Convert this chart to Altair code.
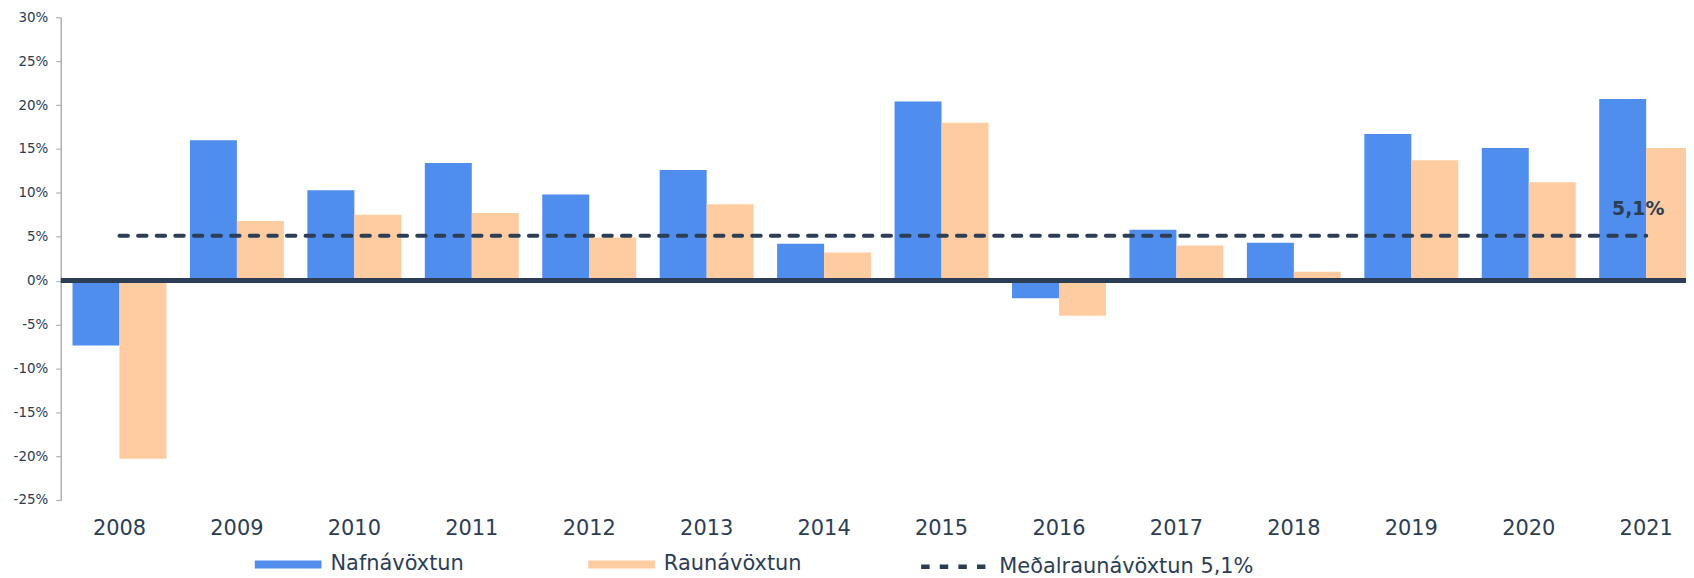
import altair as alt
import pandas as pd

years = ["2008", "2009", "2010", "2011", "2012", "2013", "2014",
         "2015", "2016", "2017", "2018", "2019", "2020", "2021"]
nafn = [-7.4, 16.0, 10.3, 13.4, 9.8, 12.6, 4.2, 20.4, -2.0, 5.8, 4.3, 16.7, 15.1, 20.7]
raun = [-20.3, 6.8, 7.5, 7.7, 4.9, 8.7, 3.2, 18.0, -4.0, 4.0, 1.0, 13.7, 11.2, 15.1]
avg_value = 5.1
avg_label = "5,1%"
series_names = ["Nafnávöxtun", "Raunávöxtun"]
avg_name = "Meðalraunávöxtun 5,1%"
y_ticks = [-25, -20, -15, -10, -5, 0, 5, 10, 15, 20, 25, 30]

BLUE = "#508EEE"
PEACH = "#FFCBA1"
NAVY = "#2C3E55"
FONT = "DejaVu Sans"

bars_df = pd.DataFrame({
    "year": years * 2,
    "series": [series_names[0]] * len(years) + [series_names[1]] * len(years),
    "value": nafn + raun,
})
avg_df = pd.DataFrame({"year": years, "value": [avg_value] * len(years),
                       "name": [avg_name] * len(years)})
lab_df = pd.DataFrame({"year": [years[-1]], "value": [avg_value], "text": [avg_label]})
zero_df = pd.DataFrame({"value": [0]})

# the reference plot runs past the right edge of the page and is cut there
x_scale = alt.Scale(domain=years, paddingInner=0.2, paddingOuter=0.1, range=[0, 1652])
y_scale = alt.Scale(domain=[-25, 30], nice=False, zero=False)

rect_path = "M-1,-0.12L1,-0.12L1,0.12L-1,0.12Z"

bars = alt.Chart(bars_df).mark_bar(opacity=1).encode(
    x=alt.X("year:N", scale=x_scale, sort=years,
            axis=alt.Axis(title=None, labelAngle=0, ticks=False, domain=False,
                          labelFontSize=21, labelFont=FONT, labelColor=NAVY,
                          labelPadding=18)),
    xOffset=alt.XOffset("series:N", sort=series_names,
                        scale=alt.Scale(paddingInner=0, paddingOuter=0)),
    y=alt.Y("value:Q", scale=y_scale,
            axis=alt.Axis(title=None, values=y_ticks, grid=False,
                          labelExpr="datum.value + '%'",
                          labelFontSize=13.5, labelFont=FONT, labelColor=NAVY,
                          domainColor="#AEB2B8", domainWidth=1.5,
                          tickColor="#AEB2B8", tickSize=5, tickWidth=1.2,
                          labelPadding=8)),
    color=alt.Color("series:N",
                    scale=alt.Scale(domain=series_names, range=[BLUE, PEACH]),
                    legend=alt.Legend(
                        title=None, orient="none", direction="horizontal",
                        legendX=195, legendY=516, padding=0,
                        symbolSize=4489, symbolType=rect_path,
                        symbolStrokeWidth=0, symbolOpacity=1,
                        labelFontSize=21, labelFont=FONT, labelColor=NAVY,
                        labelOffset=9, columnPadding=124, labelLimit=400)),
)

zero = alt.Chart(zero_df).mark_rule(color=NAVY, strokeWidth=5).encode(
    y=alt.Y("value:Q", scale=y_scale)
)

avg_line = alt.Chart(avg_df).mark_line(
    color=NAVY, strokeWidth=4, strokeCap="round"
).encode(
    x=alt.X("year:N", scale=x_scale, sort=years),
    y=alt.Y("value:Q", scale=y_scale),
    strokeDash=alt.StrokeDash(
        "name:N",
        scale=alt.Scale(domain=[avg_name], range=[[8.5, 10.2]]),
        legend=alt.Legend(
            title=None, orient="none", direction="horizontal",
            legendX=862, legendY=516, padding=0,
            symbolSize=4489, symbolType="stroke",
            symbolStrokeColor=NAVY, symbolStrokeWidth=4.5,
            symbolDash=[13, 4.5],
            labelFontSize=21, labelFont=FONT, labelColor=NAVY,
            labelOffset=9, labelLimit=400)),
)

avg_text = alt.Chart(lab_df).mark_text(
    font=FONT, fontSize=19, fontWeight="bold", color=NAVY, dy=-27, dx=-8
).encode(
    x=alt.X("year:N", scale=x_scale, sort=years),
    y=alt.Y("value:Q", scale=y_scale),
    text="text:N",
)

chart = alt.layer(bars, zero, avg_line, avg_text).properties(
    width=1633,
    height=485,
    padding={"left": 53, "top": 8, "right": 0, "bottom": 77},
    autosize=alt.AutoSizeParams(type="none"),
).configure(background="white").configure_view(stroke=None)

chart.save("out.html", embed_options={"renderer": "svg", "actions": False})
